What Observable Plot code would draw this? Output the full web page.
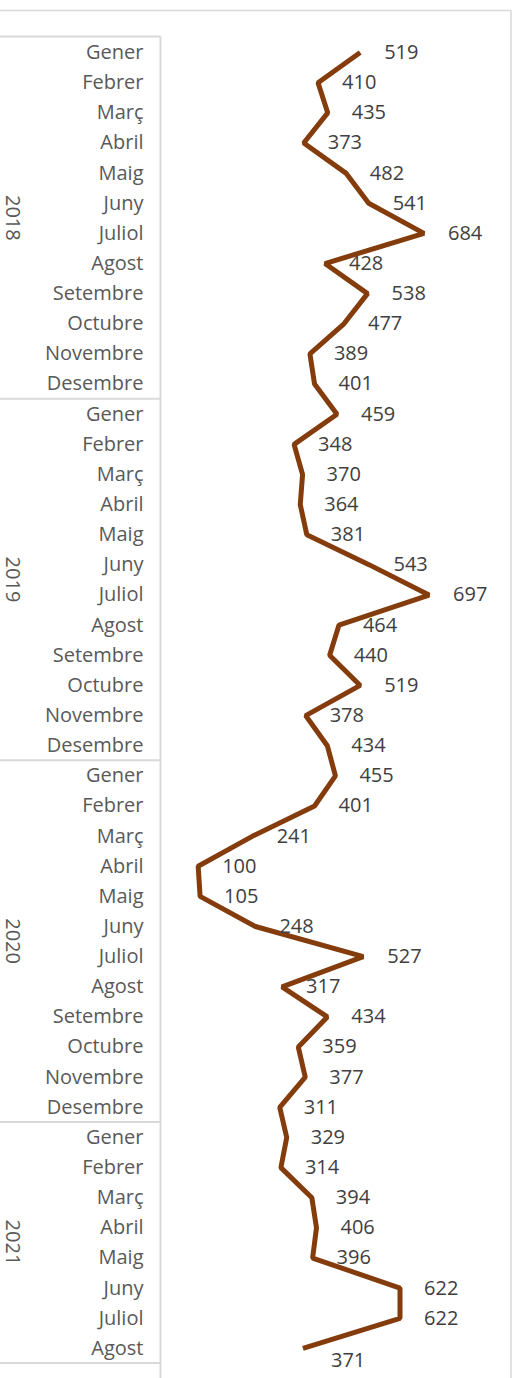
<!DOCTYPE html>
<html>
<head>
<meta charset="utf-8">
<script src="https://cdn.jsdelivr.net/npm/d3@7"></script>
<script src="https://cdn.jsdelivr.net/npm/@observablehq/plot@0.6"></script>
<style>
  html, body { margin: 0; padding: 0; background: #fff; }
  #chart svg { display: block; }
</style>
</head>
<body>
<div id="chart"></div>
<script>
const months = ["Gener","Febrer","Març","Abril","Maig","Juny","Juliol","Agost","Setembre","Octubre","Novembre","Desembre"];
const years = ["2018","2019","2020","2021"];
const v2018 = [519,410,435,373,482,541,684,428,538,477,389,401];
const v2019 = [459,348,370,364,381,543,697,464,440,519,378,434];
const v2020 = [455,401,241,100,105,248,527,317,434,359,377,311];
const v2021 = [329,314,394,406,396,622,622,371];
const seriesByYear = [v2018, v2019, v2020, v2021];

// Build table
const data = [];
const groups = [];
seriesByYear.forEach((vals, yi) => {
  const start = data.length;
  vals.forEach((v, mi) => data.push({i: data.length, year: years[yi], month: months[mi], value: v}));
  groups.push({year: years[yi], start, end: data.length - 1});
});
const lastIndex = data.length - 1;

const GRID = "#d9d9d9";

function decor(...args) {
  let scales, dims;
  if (args.length >= 4) { scales = args[1]; dims = args[3]; }
  else { scales = args[0]; dims = args[1]; }
  const y = scales.y;
  const g = d3.create("svg:g");
  const axisX = dims.marginLeft + 1.5;
  // outer frame
  g.append("line").attr("x1", 0).attr("x2", 511).attr("y1", 10.5).attr("y2", 10.5)
    .attr("stroke", GRID).attr("stroke-width", 1.5);
  g.append("line").attr("x1", 511).attr("x2", 511).attr("y1", 10).attr("y2", dims.height)
    .attr("stroke", GRID).attr("stroke-width", 1.5);
  // category table lines
  const top = y(-0.5) - 0.5;
  g.append("line").attr("x1", 0).attr("x2", axisX).attr("y1", top).attr("y2", top)
    .attr("stroke", GRID).attr("stroke-width", 2);
  groups.forEach(gr => {
    const yy = y(gr.end + 0.5);
    g.append("line").attr("x1", 0).attr("x2", axisX).attr("y1", yy).attr("y2", yy)
      .attr("stroke", GRID).attr("stroke-width", 2);
    const yc = (y(gr.start - 0.5) + y(gr.end + 0.5)) / 2;
    g.append("text").attr("transform", `translate(6,${yc}) rotate(90)`)
      .attr("text-anchor", "middle").attr("fill", "#595959")
      .attr("font-size", 20).text(gr.year);
  });
  g.append("line").attr("x1", axisX).attr("x2", axisX).attr("y1", top).attr("y2", dims.height)
    .attr("stroke", GRID).attr("stroke-width", 2);
  return g.node();
}

const plot = Plot.plot({
  width: 520,
  height: 1378,
  marginLeft: 159,
  marginRight: 13,
  marginTop: 37,
  marginBottom: 15,
  style: {fontFamily: "'Open Sans', sans-serif", fontSize: "20px", background: "#fff", color: "#595959"},
  x: {domain: [0, 900], axis: null},
  y: {type: "linear", domain: [-0.5, 43.5], reverse: true, axis: null},
  marks: [
    decor,
    Plot.axisY({
      ticks: d3.range(data.length),
      tickFormat: i => data[i] ? data[i].month : "",
      tickSize: 0,
      tickPadding: 16,
      fill: "#595959",
      fontSize: 20,
      label: null
    }),
    Plot.line(data, {x: "value", y: "i", stroke: "#843C0C", strokeWidth: 5,
      strokeLinejoin: "miter", strokeLinecap: "butt"}),
    Plot.text(data.filter(d => d.i !== lastIndex), {x: "value", y: "i", text: d => String(d.value),
      dx: 24, textAnchor: "start", fill: "#404040", fontSize: 20}),
    Plot.text(data.filter(d => d.i === lastIndex), {x: "value", y: "i", text: d => String(d.value),
      dx: 28, dy: 12, textAnchor: "start", fill: "#404040", fontSize: 20})
  ]
});
document.getElementById("chart").appendChild(plot);
</script>
</body>
</html>
